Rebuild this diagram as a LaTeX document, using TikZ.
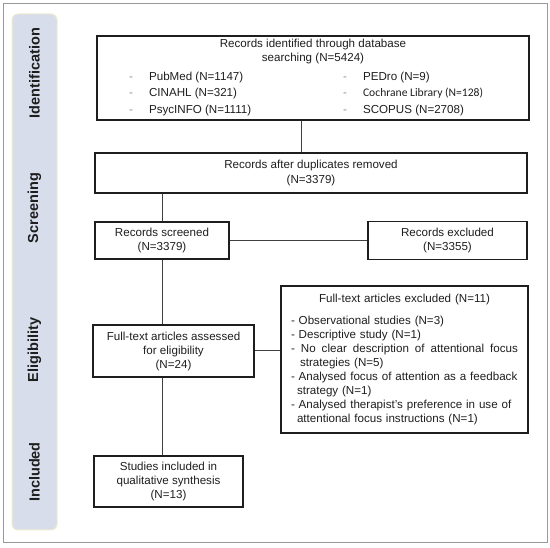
\documentclass[tikz,border=0pt]{standalone}
\usepackage{fontspec}
\setmainfont{Liberation Sans}
\newfontfamily\calibrifont{Carlito}
\usetikzlibrary{positioning}
\definecolor{phasefill}{HTML}{D7DDEA}
\definecolor{phaseedge}{HTML}{EEEBCF}
\definecolor{inkgray}{HTML}{1E1E1E}

\begin{document}
\begin{tikzpicture}[x=1pt,y=-1pt,
  every node/.style={font=\fontsize{11.6}{14}\selectfont,text=inkgray},
  box/.style={draw=inkgray,line width=1.3pt,align=center,inner sep=0pt},
  link/.style={draw=inkgray!85,line width=1pt},
  phase/.style={rotate=90,font=\fontsize{14.5}{16}\selectfont\bfseries},
  entry/.style={anchor=base west,inner sep=0pt}]

  \useasboundingbox (0,0) rectangle (550,548);
  \draw[black!40,line width=1pt] (3,4) rectangle (547,543);
  \draw[phaseedge,fill=phasefill,line width=1pt,rounded corners=6pt] (12,14) rectangle (57,530);

  % phases
  \node(ident)[phase] at (34.5,73) {Identification};
  \node(screen)[phase] at (34.5,208) {Screening};
  \node(elig)[phase] at (34.5,350) {Eligibility};
  \node(incl)[phase] at (34.5,472) {Included};

  % boxes
  \node(search)[box,minimum width=432pt,minimum height=84pt] at (313,78) {};
  \node(searchtitle)[align=center] at (313,51.5)
    {Records identified through database\\searching (N=5424)};
  \node(pubmed)[entry] at (129,81) {\textcolor{black!45}{-}\hspace{16pt}PubMed (N=1147)};
  \node(cinahl)[entry] at (129,97) {\textcolor{black!45}{-}\hspace{16pt}CINAHL (N=321)};
  \node(psyc)[entry] at (129,114) {\textcolor{black!45}{-}\hspace{16pt}PsycINFO (N=1111)};
  \node(pedro)[entry] at (343,81) {\textcolor{black!45}{-}\hspace{16pt}PEDro (N=9)};
  \node(cochrane)[entry] at (343,97) {\textcolor{black!45}{-}\hspace{16pt}{\calibrifont Cochrane Library (N=128)}};
  \node(scopus)[entry] at (343,114) {\textcolor{black!45}{-}\hspace{16pt}SCOPUS (N=2708)};

  \node(dupl)[box,minimum width=432pt,minimum height=40pt] at (311,173)
    {Records after duplicates removed\\[1.5pt](N=3379)};
  \node(screened)[box,minimum width=134pt,minimum height=37pt] at (162,240.5)
    {Records screened\\(N=3379)};
  \node(excluded)[box,minimum width=159pt,minimum height=38pt] at (447.5,240.5)
    {Records excluded\\(N=3355)};
  \node(assessed)[box,minimum width=161pt,minimum height=52pt] at (173.5,351)
    {Full-text articles assessed\\for eligibility\\(N=24)};
  \node(ftexcl)[box,minimum width=247pt,minimum height=147pt,text width=227pt,align=left] at (404.5,359.5)
    {\makebox[227pt]{Full-text articles excluded (N=11)}\\[8pt]
     - Observational studies (N=3)\\
     - Descriptive study (N=1)\\
     \makebox[227pt][l]{-\hfill No\hfill clear\hfill description\hfill of\hfill attentional\hfill focus}\\
     \hspace*{9pt}strategies (N=5)\\
     - Analysed focus of attention as a feedback\\
     \hspace*{6pt}strategy (N=1)\\
     - Analysed therapist's preference in use of\\
     \hspace*{6pt}attentional focus instructions (N=1)};
  \node(included)[box,minimum width=149pt,minimum height=51pt] at (168.5,481.5)
    {Studies included in\\qualitative synthesis\\(N=13)};

  % connectors
  \draw[link] ([xshift=-12pt]search.south) -- ([xshift=-12pt]search.south |- dupl.north);
  \draw[link] (dupl.south -| screened.north) -- (screened.north);
  \draw[link] (screened) -- (excluded);
  \draw[link] (screened.south) -- (screened.south |- assessed.north);
  \draw[link] (assessed.east) -- (assessed.east -| ftexcl.west);
  \draw[link] (screened.south |- assessed.south) -- (screened.south |- included.north);

\end{tikzpicture}
\end{document}
